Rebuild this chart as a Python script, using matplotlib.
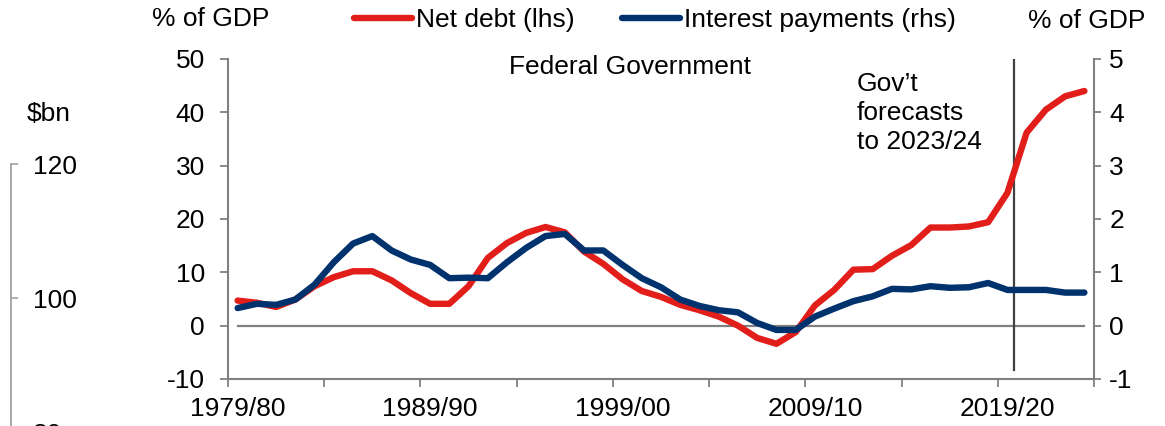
import matplotlib
matplotlib.use("Agg")
import matplotlib.pyplot as plt
from matplotlib.lines import Line2D

plt.rcParams['font.family'] = ['Liberation Sans', 'DejaVu Sans']

# ---------------- data ----------------
categories = [f"{y}/{str(y + 1)[-2:]}" for y in range(1979, 2024)]
net_debt = [4.7, 4.3, 3.5, 4.9, 7.4, 9.1, 10.2, 10.2, 8.5, 6.1,
            4.1, 4.1, 7.4, 12.7, 15.5, 17.4, 18.5, 17.5, 13.9, 11.6,
            8.7, 6.5, 5.4, 3.9, 2.9, 1.7, 0.0, -2.3, -3.4, -1.2,
            3.8, 6.7, 10.5, 10.6, 13.1, 15.1, 18.4, 18.4, 18.6, 19.4,
            24.9, 36.2, 40.5, 43.0, 44.0]
interest = [0.33, 0.41, 0.39, 0.49, 0.77, 1.19, 1.54, 1.68, 1.41, 1.24,
            1.14, 0.89, 0.90, 0.89, 1.19, 1.46, 1.68, 1.72, 1.41, 1.41,
            1.14, 0.89, 0.72, 0.49, 0.37, 0.29, 0.25, 0.05, -0.08, -0.08,
            0.17, 0.32, 0.46, 0.55, 0.69, 0.68, 0.74, 0.71, 0.72, 0.80,
            0.67, 0.67, 0.67, 0.62, 0.62]
xtick_labels = ["1979/80", "1989/90", "1999/00", "2009/10", "2019/20"]
left_ticks = [-10, 0, 10, 20, 30, 40, 50]
right_ticks = [-1, 0, 1, 2, 3, 4, 5]
bn_ticks = [120, 100, 80, 60]
forecast_pos = 40.35

RED = '#E21E1A'
BLUE = '#00326E'
GRAY = '#808080'
FS = 19

W, H = 1165, 426
fig = plt.figure(figsize=(W / 100, H / 100), dpi=100)


def fx(px):
    return px / W


def fy(py):
    return 1 - py / H


# ---------------- main axes ----------------
ax = fig.add_axes([fx(228), fy(379), fx(1094) - fx(228), fy(59) - fy(379)])
ax2 = ax.twinx()
x = list(range(len(categories)))
ax.set_xlim(-0.5, len(categories) - 0.5)
ax.set_ylim(-10, 50)
ax2.set_ylim(-1, 5)

ax.plot([0, len(categories) - 1], [0, 0], color=GRAY, lw=1.6, zorder=1)
ax.plot(x, net_debt, color=RED, lw=4.6, solid_capstyle='round', zorder=3)
ax2.plot(x, interest, color=BLUE, lw=4.6, solid_capstyle='round', zorder=3)
ax.plot([forecast_pos, forecast_pos], [49.8, -8.3], color='#404040', lw=1.6, zorder=2)

for a in (ax, ax2):
    a.spines['top'].set_visible(False)
ax.spines['right'].set_visible(False)
ax2.spines['left'].set_visible(False)
ax2.spines['bottom'].set_visible(False)
for s in ('left', 'bottom'):
    ax.spines[s].set_color(GRAY)
    ax.spines[s].set_linewidth(1.5)
ax2.spines['right'].set_color(GRAY)
ax2.spines['right'].set_linewidth(1.5)

ax.set_yticks(left_ticks)
ax.set_yticklabels([str(t) for t in left_ticks])
ax.tick_params(axis='y', direction='out', length=5.5, width=1.3, color=GRAY,
               labelsize=FS, pad=11)
ax2.set_yticks(right_ticks)
ax2.set_yticklabels([str(t) for t in right_ticks])
ax2.tick_params(axis='y', direction='out', length=5, width=1.3, color=GRAY,
                labelsize=FS, pad=6)

ax.set_xticks([categories.index(l) for l in xtick_labels])
ax.set_xticklabels(xtick_labels)
ax.set_xticks([i - 0.5 for i in range(0, len(categories) + 1, 5)], minor=True)
ax.tick_params(axis='x', which='major', length=0, labelsize=FS, pad=13)
ax.tick_params(axis='x', which='minor', direction='out', length=5.5, width=1.3,
               color=GRAY)

# ---------------- texts ----------------
fig.text(fx(152), fy(19), "% of GDP", fontsize=FS, ha='left', va='center')
fig.text(fx(1028), fy(21), "% of GDP", fontsize=FS, ha='left', va='center')
fig.text(fx(630), fy(67), "Federal Government", fontsize=FS, ha='center', va='center')
fig.text(fx(857), fy(113), "Gov\u2019t\nforecasts\nto 2023/24", fontsize=FS,
         ha='left', va='center', linespacing=1.25)

handles = [Line2D([], [], color=RED, lw=4.6, solid_capstyle='round'),
           Line2D([], [], color=BLUE, lw=4.6, solid_capstyle='round')]
fig.legend(handles, ["Net debt (lhs)", "Interest payments (rhs)"],
           loc='center left', bbox_to_anchor=(fx(354), fy(20)), ncol=2,
           frameon=False, fontsize=FS, handlelength=2.2, handletextpad=0.15,
           columnspacing=1.8, borderpad=0, borderaxespad=0)

# ---------------- stray $bn axis at far left ----------------
axb = fig.add_axes([0, fy(566), fx(11), fy(164) - fy(566)])
axb.set_ylim(60, 120)
axb.set_xticks([])
for s in ('top', 'left', 'bottom'):
    axb.spines[s].set_visible(False)
axb.spines['right'].set_color('#A0A0A0')
axb.spines['right'].set_linewidth(1.3)
axb.yaxis.tick_right()
axb.set_yticks(bn_ticks)
axb.set_yticklabels([str(t) for t in bn_ticks])
axb.tick_params(axis='y', direction='out', length=5, width=1.2, color='#A0A0A0',
                labelsize=FS, pad=11)
axb.patch.set_visible(False)
fig.text(fx(27), fy(114), "\\$bn", fontsize=FS, ha='left', va='center')

fig.savefig("out.png", dpi=100)
